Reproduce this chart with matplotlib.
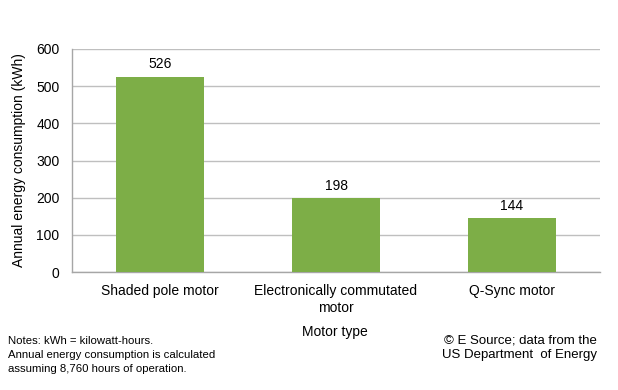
import matplotlib
matplotlib.use("Agg")
import matplotlib.pyplot as plt

categories = ["Shaded pole motor", "Electronically commutated\nmotor", "Q-Sync motor"]
values = [526, 198, 144]
yticks = [0, 100, 200, 300, 400, 500, 600]

plt.rcParams['font.family'] = ['Liberation Sans', 'DejaVu Sans']

fig = plt.figure(figsize=(6.18, 3.9), dpi=100)
W, H = 618, 390
x0, x1, yt, yb = 72, 600, 49, 272
ax = fig.add_axes([x0 / W, 1 - yb / H, (x1 - x0) / W, (yb - yt) / H])

pos = list(range(len(categories)))
bars = ax.bar(pos, values, width=0.5, color="#7DAE47", zorder=3)
ax.set_xlim(-0.5, len(categories) - 0.5)
ax.set_ylim(0, 600)
ax.set_yticks(yticks)
ax.set_yticklabels([str(t) for t in yticks])
ax.set_xticks(pos)
ax.set_xticklabels(categories)
ax.tick_params(axis='both', length=0, labelsize=10, colors="#000000")
ax.tick_params(axis='y', pad=9)
ax.tick_params(axis='x', pad=9)
ax.grid(axis='y', color="#BFBFBF", linewidth=1, zorder=0)
for s in ['top', 'right']:
    ax.spines[s].set_visible(False)
for s in ['left', 'bottom']:
    ax.spines[s].set_color("#A6A6A6")
    ax.spines[s].set_linewidth(1)

for b, v in zip(bars, values):
    ax.annotate(str(v), (b.get_x() + b.get_width() / 2, v), xytext=(0, 4),
                textcoords='offset points', ha='center', va='bottom', fontsize=10)

fig.text(19 / W, 1 - 160 / H, "Annual energy consumption (kWh)", rotation=90,
         ha='center', va='center', fontsize=10)
fig.text(335 / W, 1 - 332 / H, "Motor type", ha='center', va='center', fontsize=10)
fig.text(8 / W, 1 - 335.5 / H,
         "Notes: kWh = kilowatt-hours.\nAnnual energy consumption is calculated\nassuming 8,760 hours of operation.",
         ha='left', va='top', fontsize=8.2, linespacing=1.55)
fig.text(597 / W, 1 - 334.5 / H, "© E Source; data from the\nUS Department  of Energy",
         ha='right', va='top', fontsize=9.5, linespacing=1.32, multialignment='right')

fig.savefig("out.png", dpi=100)
